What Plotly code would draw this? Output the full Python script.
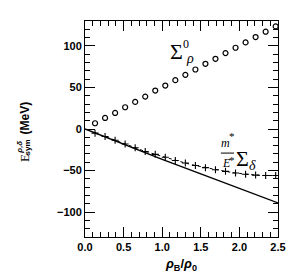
import plotly.graph_objects as go

# Data
x_pts = [0.13, 0.26, 0.39, 0.52, 0.65, 0.78, 0.91, 1.04, 1.17, 1.30,
         1.43, 1.56, 1.69, 1.82, 1.95, 2.08, 2.21, 2.34, 2.47]
sigma_rho0 = [6.9, 13.3, 19.3, 26.2, 32.6, 39.0, 46.3, 52.3, 58.8, 65.2,
              71.6, 78.5, 84.5, 91.4, 97.8, 104.2, 110.7, 117.1, 123.5]
sigma_delta_eff = [-5, -9, -13.5, -18, -22.5, -27, -30.5, -34, -38, -41,
                   -44, -46.5, -49, -51, -53, -54.5, -55.5, -56, -56]
x_line = [0.0, 0.5, 1.0, 1.5, 2.0, 2.5]
sigma_delta = [0.0, -18.5, -36.5, -54.0, -71.5, -89.0]

x_ticks = [0.0, 0.5, 1.0, 1.5, 2.0, 2.5]
y_ticks = [-100, -50, 0, 50, 100]

fig = go.Figure()
fig.add_trace(go.Scatter(x=x_line, y=sigma_delta, mode="lines",
                         line=dict(color="black", width=1.4), showlegend=False))
fig.add_trace(go.Scatter(x=x_pts, y=sigma_delta_eff, mode="lines+markers",
                         line=dict(color="black", width=1, dash="3px,3px"),
                         marker=dict(symbol="cross-thin-open", size=5, color="black",
                                     line=dict(color="black", width=1.1)),
                         showlegend=False))
fig.add_trace(go.Scatter(x=x_pts, y=sigma_rho0, mode="markers",
                         marker=dict(symbol="circle-open", size=5, color="black",
                                     line=dict(color="black", width=1.2)),
                         showlegend=False))

serif = "Liberation Serif"
ann = []
ann.append(dict(x=1.19, y=93, text="Σ", font=dict(family=serif, size=22, color="black")))
ann.append(dict(x=1.36, y=85, text="<i>ρ</i>", font=dict(family=serif, size=14, color="black")))
ann.append(dict(x=1.31, y=102, text="0", font=dict(family=serif, size=12, color="black")))
ann.append(dict(x=1.82, y=-17, text="<i>m</i>", font=dict(family=serif, size=12, color="black")))
ann.append(dict(x=1.90, y=-9, text="*", font=dict(family=serif, size=11, color="black")))
ann.append(dict(x=1.83, y=-41, text="<i>E</i>", font=dict(family=serif, size=12, color="black")))
ann.append(dict(x=1.91, y=-37, text="*", font=dict(family=serif, size=11, color="black")))
ann.append(dict(x=2.04, y=-35, text="Σ", font=dict(family=serif, size=22, color="black")))
ann.append(dict(x=2.17, y=-44, text="<i>δ</i>", font=dict(family=serif, size=14, color="black")))
for a in ann:
    a.update(xref="x", yref="y", showarrow=False)

# y-axis title pieces (rotated), stacked super/subscript
ytitle = [
    dict(x=-0.311, y=0.366, text="E", font=dict(family=serif, size=13, color="black")),
    dict(x=-0.296, y=0.414, text="<b>sym</b>", font=dict(family="Liberation Sans", size=8, color="black")),
    dict(x=-0.338, y=0.417, text="<b><i>ρ,δ</i></b>", font=dict(family="Liberation Sans", size=8, color="black")),
    dict(x=-0.311, y=0.553, text="<b>(MeV)</b>", font=dict(family="Liberation Sans", size=12, color="black")),
]
for a in ytitle:
    a.update(xref="paper", yref="paper", showarrow=False, textangle=-90,
             xanchor="center", yanchor="middle")
fig.update_layout(annotations=ann + ytitle)
fig.add_shape(type="line", xref="x", yref="y", x0=1.76, x1=1.93, y0=-29, y1=-29,
              line=dict(color="black", width=1))

fig.update_layout(
    width=300, height=280,
    margin=dict(l=85, r=22, t=21, b=43),
    plot_bgcolor="white", paper_bgcolor="white",
    font=dict(family="Liberation Sans", color="black"),
)
fig.update_xaxes(
    range=[0, 2.5], tickvals=x_ticks, ticktext=[f"{v:.1f}" for v in x_ticks],
    ticks="inside", ticklen=10, tickwidth=1, tickcolor="black",
    showline=True, linecolor="black", linewidth=1, mirror="allticks",
    showgrid=False, zeroline=False, automargin=False,
    tickfont=dict(size=11, weight="bold", family="Liberation Sans"),
    minor=dict(ticks="inside", ticklen=5, dtick=0.1, tick0=0, tickcolor="black", showgrid=False),
    title=dict(text="<b><i>ρ</i><sub>B</sub>/<i>ρ</i><sub>0</sub></b>", font=dict(size=13), standoff=6),
)
fig.update_yaxes(
    range=[-130, 130], tickvals=y_ticks, ticktext=["−100", "−50", "0", "50", "100"],
    ticks="inside", ticklen=10, tickwidth=1, tickcolor="black",
    showline=True, linecolor="black", linewidth=1, mirror="allticks",
    showgrid=False, zeroline=False, automargin=False,
    tickfont=dict(size=11, weight="bold", family="Liberation Sans"),
    minor=dict(ticks="inside", ticklen=5, dtick=10, tick0=0, tickcolor="black", showgrid=False),
)

fig.write_html("out.html", config={"displayModeBar": False},
               post_script="document.body.style.margin='0';document.body.style.padding='0';")
